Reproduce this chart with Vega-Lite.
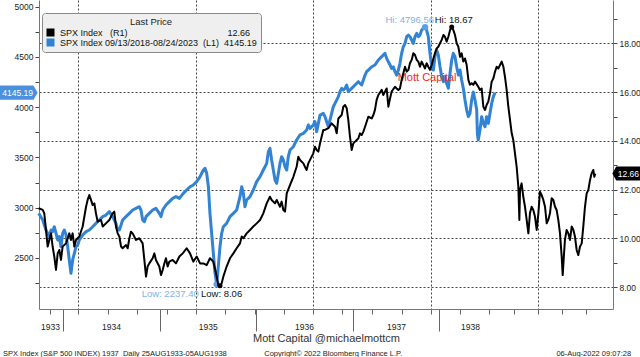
{
  "$schema": "https://vega.github.io/schema/vega-lite/v6.json",
  "width": 574,
  "height": 309,
  "autosize": {"type": "none"},
  "padding": {"left": 39, "top": 0, "right": 27, "bottom": 48},
  "background": "white",
  "config": {"view": {"stroke": null}, "font": "Liberation Sans"},
  "title": {
    "text": "SPX Index (S&P 500 INDEX) 1937\u00a0\u00a0Daily 25AUG1933-05AUG1938\u00a0\u00a0\u00a0\u00a0\u00a0\u00a0\u00a0\u00a0\u00a0\u00a0\u00a0\u00a0\u00a0\u00a0\u00a0\u00a0\u00a0\u00a0Copyright© 2022 Bloomberg Finance L.P.\u00a0\u00a0\u00a0\u00a0\u00a0\u00a0\u00a0\u00a0\u00a0\u00a0\u00a0\u00a0\u00a0\u00a0\u00a0\u00a0\u00a0\u00a0\u00a0\u00a0\u00a0\u00a0\u00a0\u00a0\u00a0\u00a0\u00a0\u00a0\u00a0\u00a0\u00a0\u00a0\u00a0\u00a0\u00a0\u00a0\u00a0\u00a0\u00a0\u00a0\u00a0\u00a0\u00a0\u00a0\u00a0\u00a0\u00a0\u00a0\u00a0\u00a0\u00a0\u00a0\u00a0\u00a0\u00a0\u00a0\u00a0\u00a0\u00a0\u00a0\u00a0\u00a0\u00a0\u00a0\u00a0\u00a0\u00a0\u00a0\u00a0\u00a0\u00a0\u00a0\u00a0\u00a006-Aug-2022 09:07:28",
    "orient": "bottom", "anchor": "start", "frame": "group", "dx": -36, "offset": 2,
    "fontSize": 7.5, "font": "Liberation Sans", "fontWeight": "normal", "color": "#222"
  },
  "datasets": {
    "black": [
      {"t":1933.647,"v":11.24},{"t":1933.683,"v":11.17},{"t":1933.697,"v":11.03},{"t":1933.712,"v":10.35},{"t":1933.727,"v":9.67},{"t":1933.757,"v":10.21},{"t":1933.771,"v":9.67},{"t":1933.786,"v":9.26},{"t":1933.801,"v":8.71},{"t":1933.816,"v":9.39},{"t":1933.831,"v":9.53},{"t":1933.845,"v":9.12},{"t":1933.860,"v":9.67},{"t":1933.890,"v":9.80},{"t":1933.919,"v":10.21},{"t":1933.934,"v":9.94},{"t":1933.949,"v":10.21},{"t":1933.964,"v":9.67},{"t":1933.979,"v":9.94},{"t":1934.008,"v":10.08},{"t":1934.038,"v":10.49},{"t":1934.068,"v":11.30},{"t":1934.082,"v":11.58},{"t":1934.097,"v":11.78},{"t":1934.112,"v":11.58},{"t":1934.127,"v":11.37},{"t":1934.142,"v":11.44},{"t":1934.156,"v":11.03},{"t":1934.171,"v":10.69},{"t":1934.201,"v":10.76},{"t":1934.216,"v":10.49},{"t":1934.245,"v":10.62},{"t":1934.275,"v":10.76},{"t":1934.304,"v":11.03},{"t":1934.319,"v":11.10},{"t":1934.334,"v":10.49},{"t":1934.349,"v":10.21},{"t":1934.364,"v":10.08},{"t":1934.379,"v":9.67},{"t":1934.393,"v":9.60},{"t":1934.423,"v":9.73},{"t":1934.438,"v":9.60},{"t":1934.453,"v":10.01},{"t":1934.467,"v":10.28},{"t":1934.482,"v":10.21},{"t":1934.512,"v":9.94},{"t":1934.541,"v":10.01},{"t":1934.571,"v":9.80},{"t":1934.586,"v":9.12},{"t":1934.601,"v":8.44},{"t":1934.615,"v":8.85},{"t":1934.630,"v":8.98},{"t":1934.660,"v":9.19},{"t":1934.675,"v":9.39},{"t":1934.689,"v":9.12},{"t":1934.719,"v":8.85},{"t":1934.734,"v":8.50},{"t":1934.749,"v":8.71},{"t":1934.764,"v":8.98},{"t":1934.778,"v":9.19},{"t":1934.793,"v":8.85},{"t":1934.808,"v":9.05},{"t":1934.838,"v":9.12},{"t":1934.867,"v":8.98},{"t":1934.882,"v":9.12},{"t":1934.897,"v":9.26},{"t":1934.927,"v":9.39},{"t":1934.962,"v":9.60},{"t":1934.992,"v":9.39},{"t":1935.021,"v":9.05},{"t":1935.051,"v":9.26},{"t":1935.081,"v":8.98},{"t":1935.110,"v":8.98},{"t":1935.140,"v":8.91},{"t":1935.169,"v":9.19},{"t":1935.199,"v":9.05},{"t":1935.229,"v":8.44},{"t":1935.243,"v":8.09},{"t":1935.258,"v":8.06},{"t":1935.273,"v":8.16},{"t":1935.288,"v":8.44},{"t":1935.317,"v":8.85},{"t":1935.347,"v":9.19},{"t":1935.377,"v":9.39},{"t":1935.406,"v":9.60},{"t":1935.436,"v":9.80},{"t":1935.451,"v":10.08},{"t":1935.466,"v":10.01},{"t":1935.495,"v":10.21},{"t":1935.525,"v":10.35},{"t":1935.554,"v":10.49},{"t":1935.584,"v":10.62},{"t":1935.614,"v":10.76},{"t":1935.643,"v":11.03},{"t":1935.673,"v":11.44},{"t":1935.702,"v":11.71},{"t":1935.717,"v":11.58},{"t":1935.747,"v":11.44},{"t":1935.762,"v":11.58},{"t":1935.791,"v":11.30},{"t":1935.806,"v":11.51},{"t":1935.821,"v":11.17},{"t":1935.836,"v":11.10},{"t":1935.851,"v":11.85},{"t":1935.880,"v":12.19},{"t":1935.910,"v":12.53},{"t":1935.939,"v":12.94},{"t":1935.954,"v":13.35},{"t":1935.969,"v":13.22},{"t":1935.999,"v":13.08},{"t":1936.013,"v":12.94},{"t":1936.028,"v":12.81},{"t":1936.043,"v":13.08},{"t":1936.058,"v":13.22},{"t":1936.087,"v":13.49},{"t":1936.102,"v":13.76},{"t":1936.117,"v":13.63},{"t":1936.132,"v":13.56},{"t":1936.147,"v":13.90},{"t":1936.176,"v":14.45},{"t":1936.191,"v":14.45},{"t":1936.221,"v":14.52},{"t":1936.250,"v":14.72},{"t":1936.280,"v":14.58},{"t":1936.295,"v":14.31},{"t":1936.310,"v":14.92},{"t":1936.339,"v":15.06},{"t":1936.354,"v":15.40},{"t":1936.369,"v":15.47},{"t":1936.384,"v":15.34},{"t":1936.398,"v":14.86},{"t":1936.413,"v":14.17},{"t":1936.428,"v":13.63},{"t":1936.443,"v":13.90},{"t":1936.458,"v":13.97},{"t":1936.487,"v":14.10},{"t":1936.502,"v":14.31},{"t":1936.517,"v":14.24},{"t":1936.532,"v":14.38},{"t":1936.547,"v":14.58},{"t":1936.576,"v":14.99},{"t":1936.606,"v":14.92},{"t":1936.621,"v":15.06},{"t":1936.635,"v":15.27},{"t":1936.650,"v":15.68},{"t":1936.665,"v":15.88},{"t":1936.695,"v":16.09},{"t":1936.709,"v":15.88},{"t":1936.724,"v":16.02},{"t":1936.739,"v":16.15},{"t":1936.754,"v":15.40},{"t":1936.769,"v":15.74},{"t":1936.783,"v":16.02},{"t":1936.813,"v":16.22},{"t":1936.828,"v":16.15},{"t":1936.843,"v":16.09},{"t":1936.857,"v":16.15},{"t":1936.872,"v":16.50},{"t":1936.887,"v":16.77},{"t":1936.902,"v":17.04},{"t":1936.917,"v":16.84},{"t":1936.932,"v":16.91},{"t":1936.946,"v":17.18},{"t":1936.961,"v":17.32},{"t":1936.976,"v":17.59},{"t":1936.991,"v":17.52},{"t":1937.006,"v":17.32},{"t":1937.020,"v":17.25},{"t":1937.035,"v":17.04},{"t":1937.050,"v":17.25},{"t":1937.065,"v":17.11},{"t":1937.080,"v":16.97},{"t":1937.094,"v":17.18},{"t":1937.109,"v":17.04},{"t":1937.124,"v":16.91},{"t":1937.139,"v":17.11},{"t":1937.154,"v":17.38},{"t":1937.168,"v":17.59},{"t":1937.183,"v":17.79},{"t":1937.198,"v":17.86},{"t":1937.213,"v":18.00},{"t":1937.228,"v":18.14},{"t":1937.243,"v":18.34},{"t":1937.257,"v":18.27},{"t":1937.272,"v":18.07},{"t":1937.287,"v":18.27},{"t":1937.302,"v":18.54},{"t":1937.317,"v":18.67},{"t":1937.331,"v":18.55},{"t":1937.346,"v":18.34},{"t":1937.361,"v":18.00},{"t":1937.376,"v":17.86},{"t":1937.391,"v":17.45},{"t":1937.405,"v":17.59},{"t":1937.420,"v":17.25},{"t":1937.435,"v":17.38},{"t":1937.450,"v":17.11},{"t":1937.465,"v":16.50},{"t":1937.479,"v":16.30},{"t":1937.494,"v":16.36},{"t":1937.509,"v":16.30},{"t":1937.524,"v":16.43},{"t":1937.553,"v":16.22},{"t":1937.568,"v":16.09},{"t":1937.583,"v":16.15},{"t":1937.598,"v":15.40},{"t":1937.613,"v":15.27},{"t":1937.627,"v":15.47},{"t":1937.642,"v":15.61},{"t":1937.657,"v":15.95},{"t":1937.672,"v":16.43},{"t":1937.687,"v":16.56},{"t":1937.702,"v":16.84},{"t":1937.716,"v":17.04},{"t":1937.731,"v":16.97},{"t":1937.746,"v":17.11},{"t":1937.761,"v":17.25},{"t":1937.776,"v":17.04},{"t":1937.790,"v":16.63},{"t":1937.805,"v":16.09},{"t":1937.820,"v":15.40},{"t":1937.835,"v":14.86},{"t":1937.850,"v":14.31},{"t":1937.864,"v":14.04},{"t":1937.879,"v":13.49},{"t":1937.894,"v":12.94},{"t":1937.909,"v":12.12},{"t":1937.918,"v":10.76},{"t":1937.924,"v":11.99},{"t":1937.938,"v":12.26},{"t":1937.953,"v":11.71},{"t":1937.968,"v":11.30},{"t":1937.983,"v":10.76},{"t":1937.998,"v":10.21},{"t":1938.012,"v":11.03},{"t":1938.027,"v":11.30},{"t":1938.042,"v":11.17},{"t":1938.057,"v":10.89},{"t":1938.072,"v":10.35},{"t":1938.087,"v":11.03},{"t":1938.101,"v":11.92},{"t":1938.116,"v":11.78},{"t":1938.131,"v":11.58},{"t":1938.146,"v":11.30},{"t":1938.161,"v":10.62},{"t":1938.175,"v":10.76},{"t":1938.190,"v":11.03},{"t":1938.205,"v":11.65},{"t":1938.220,"v":11.58},{"t":1938.235,"v":11.30},{"t":1938.249,"v":11.17},{"t":1938.264,"v":10.76},{"t":1938.279,"v":10.21},{"t":1938.294,"v":9.26},{"t":1938.303,"v":8.50},{"t":1938.315,"v":9.39},{"t":1938.323,"v":9.94},{"t":1938.338,"v":10.35},{"t":1938.353,"v":10.21},{"t":1938.368,"v":9.94},{"t":1938.383,"v":10.49},{"t":1938.398,"v":10.35},{"t":1938.412,"v":10.08},{"t":1938.427,"v":9.53},{"t":1938.442,"v":9.32},{"t":1938.457,"v":9.67},{"t":1938.472,"v":9.80},{"t":1938.486,"v":10.49},{"t":1938.501,"v":11.30},{"t":1938.516,"v":11.85},{"t":1938.531,"v":11.99},{"t":1938.546,"v":12.40},{"t":1938.560,"v":12.67},{"t":1938.575,"v":12.81},{"t":1938.584,"v":12.53},{"t":1938.593,"v":12.66}
    ],
    "blue": [
      {"t":1933.647,"v":2944},{"t":1933.683,"v":2878},{"t":1933.712,"v":2778},{"t":1933.727,"v":2745},{"t":1933.742,"v":2712},{"t":1933.757,"v":2778},{"t":1933.771,"v":2762},{"t":1933.786,"v":2811},{"t":1933.801,"v":2745},{"t":1933.816,"v":2679},{"t":1933.831,"v":2712},{"t":1933.845,"v":2612},{"t":1933.860,"v":2745},{"t":1933.875,"v":2778},{"t":1933.890,"v":2728},{"t":1933.905,"v":2612},{"t":1933.919,"v":2480},{"t":1933.934,"v":2347},{"t":1933.949,"v":2480},{"t":1933.964,"v":2546},{"t":1933.979,"v":2612},{"t":1933.994,"v":2629},{"t":1934.008,"v":2679},{"t":1934.038,"v":2728},{"t":1934.068,"v":2762},{"t":1934.097,"v":2778},{"t":1934.127,"v":2811},{"t":1934.156,"v":2844},{"t":1934.186,"v":2878},{"t":1934.216,"v":2911},{"t":1934.245,"v":2927},{"t":1934.275,"v":2961},{"t":1934.304,"v":2911},{"t":1934.334,"v":2844},{"t":1934.349,"v":2778},{"t":1934.364,"v":2778},{"t":1934.379,"v":2828},{"t":1934.393,"v":2878},{"t":1934.423,"v":2911},{"t":1934.453,"v":2944},{"t":1934.482,"v":2977},{"t":1934.512,"v":2994},{"t":1934.541,"v":3010},{"t":1934.556,"v":2977},{"t":1934.571,"v":2878},{"t":1934.586,"v":2861},{"t":1934.601,"v":2911},{"t":1934.630,"v":2944},{"t":1934.660,"v":2977},{"t":1934.689,"v":2994},{"t":1934.719,"v":2944},{"t":1934.734,"v":2911},{"t":1934.749,"v":2977},{"t":1934.778,"v":3027},{"t":1934.808,"v":3060},{"t":1934.838,"v":3093},{"t":1934.867,"v":3110},{"t":1934.897,"v":3093},{"t":1934.932,"v":3143},{"t":1934.962,"v":3176},{"t":1934.992,"v":3209},{"t":1935.021,"v":3226},{"t":1935.051,"v":3259},{"t":1935.081,"v":3309},{"t":1935.110,"v":3375},{"t":1935.125,"v":3392},{"t":1935.140,"v":3342},{"t":1935.155,"v":3209},{"t":1935.169,"v":2944},{"t":1935.184,"v":2745},{"t":1935.199,"v":2546},{"t":1935.214,"v":2347},{"t":1935.229,"v":2237.4},{"t":1935.243,"v":2413},{"t":1935.258,"v":2612},{"t":1935.273,"v":2745},{"t":1935.288,"v":2811},{"t":1935.317,"v":2844},{"t":1935.347,"v":2911},{"t":1935.377,"v":2944},{"t":1935.406,"v":2977},{"t":1935.436,"v":3110},{"t":1935.451,"v":3209},{"t":1935.466,"v":3143},{"t":1935.480,"v":3010},{"t":1935.495,"v":3077},{"t":1935.525,"v":3110},{"t":1935.554,"v":3176},{"t":1935.584,"v":3259},{"t":1935.614,"v":3309},{"t":1935.643,"v":3375},{"t":1935.658,"v":3408},{"t":1935.673,"v":3441},{"t":1935.688,"v":3557},{"t":1935.702,"v":3591},{"t":1935.717,"v":3475},{"t":1935.732,"v":3375},{"t":1935.747,"v":3276},{"t":1935.762,"v":3243},{"t":1935.777,"v":3342},{"t":1935.791,"v":3441},{"t":1935.806,"v":3508},{"t":1935.821,"v":3475},{"t":1935.836,"v":3408},{"t":1935.851,"v":3375},{"t":1935.865,"v":3508},{"t":1935.880,"v":3574},{"t":1935.910,"v":3607},{"t":1935.939,"v":3674},{"t":1935.969,"v":3724},{"t":1935.999,"v":3740},{"t":1936.028,"v":3773},{"t":1936.043,"v":3823},{"t":1936.058,"v":3790},{"t":1936.087,"v":3823},{"t":1936.102,"v":3856},{"t":1936.117,"v":3757},{"t":1936.132,"v":3839},{"t":1936.147,"v":3922},{"t":1936.176,"v":3939},{"t":1936.191,"v":3906},{"t":1936.206,"v":3856},{"t":1936.221,"v":3806},{"t":1936.236,"v":3873},{"t":1936.250,"v":3939},{"t":1936.265,"v":4005},{"t":1936.280,"v":4038},{"t":1936.310,"v":4105},{"t":1936.324,"v":4155},{"t":1936.339,"v":4188},{"t":1936.354,"v":4171},{"t":1936.369,"v":4188},{"t":1936.384,"v":4221},{"t":1936.398,"v":4155},{"t":1936.413,"v":4171},{"t":1936.428,"v":4188},{"t":1936.458,"v":4221},{"t":1936.487,"v":4254},{"t":1936.517,"v":4221},{"t":1936.532,"v":4271},{"t":1936.547,"v":4320},{"t":1936.561,"v":4354},{"t":1936.576,"v":4370},{"t":1936.606,"v":4403},{"t":1936.635,"v":4420},{"t":1936.665,"v":4470},{"t":1936.695,"v":4503},{"t":1936.724,"v":4536},{"t":1936.739,"v":4486},{"t":1936.754,"v":4453},{"t":1936.769,"v":4420},{"t":1936.783,"v":4387},{"t":1936.798,"v":4403},{"t":1936.813,"v":4354},{"t":1936.828,"v":4320},{"t":1936.843,"v":4370},{"t":1936.857,"v":4437},{"t":1936.872,"v":4536},{"t":1936.887,"v":4602},{"t":1936.902,"v":4636},{"t":1936.917,"v":4702},{"t":1936.932,"v":4718},{"t":1936.946,"v":4702},{"t":1936.961,"v":4669},{"t":1936.976,"v":4636},{"t":1936.991,"v":4702},{"t":1937.006,"v":4735},{"t":1937.020,"v":4702},{"t":1937.035,"v":4718},{"t":1937.050,"v":4768},{"t":1937.065,"v":4785},{"t":1937.080,"v":4796.56},{"t":1937.094,"v":4768},{"t":1937.109,"v":4702},{"t":1937.124,"v":4536},{"t":1937.139,"v":4403},{"t":1937.154,"v":4370},{"t":1937.168,"v":4503},{"t":1937.183,"v":4569},{"t":1937.198,"v":4519},{"t":1937.213,"v":4403},{"t":1937.228,"v":4304},{"t":1937.243,"v":4254},{"t":1937.257,"v":4304},{"t":1937.272,"v":4237},{"t":1937.287,"v":4188},{"t":1937.302,"v":4337},{"t":1937.317,"v":4470},{"t":1937.331,"v":4536},{"t":1937.346,"v":4503},{"t":1937.361,"v":4403},{"t":1937.376,"v":4320},{"t":1937.391,"v":4370},{"t":1937.405,"v":4271},{"t":1937.420,"v":4188},{"t":1937.435,"v":4072},{"t":1937.450,"v":3972},{"t":1937.465,"v":3906},{"t":1937.479,"v":3939},{"t":1937.494,"v":4072},{"t":1937.509,"v":4150},{"t":1937.524,"v":4072},{"t":1937.539,"v":3972},{"t":1937.545,"v":3740},{"t":1937.553,"v":3674},{"t":1937.568,"v":3773},{"t":1937.583,"v":3906},{"t":1937.598,"v":3839},{"t":1937.613,"v":3806},{"t":1937.627,"v":3906},{"t":1937.642,"v":3839},{"t":1937.657,"v":3939},{"t":1937.672,"v":4038},{"t":1937.687,"v":4105},{"t":1937.702,"v":4145.19}
    ]
  },
  "encoding": {
    "x": {
      "field": "t", "type": "quantitative",
      "scale": {"domain": [1933.65, 1938.75], "nice": false, "zero": false},
      "axis": {
        "title": "Mott Capital @michaelmottcm",
        "titleFont": "Liberation Sans", "titleFontSize": 11, "titleFontWeight": "normal", "titleColor": "#333", "titleY": 23,
        "values": [1933.748, 1933.863, 1934, 1934.263, 1934.29, 1934.521, 1934.725, 1934.787, 1935.045, 1935.15, 1935.303, 1935.569, 1935.578, 1935.827, 1936.005, 1936.084, 1936.342, 1936.44, 1936.609, 1936.822, 1936.875, 1937.133, 1937.204, 1937.391, 1937.48, 1937.648, 1937.87, 1938.083, 1938.297, 1938.51],
        "labelExpr": "datum.value == 1933.748 ? '1933' : datum.value == 1934.29 ? '1934' : datum.value == 1935.15 ? '1935' : datum.value == 1936.005 ? '1936' : datum.value == 1936.822 ? '1937' : datum.value == 1937.48 ? '1938' : ''",
        "labelFont": "Liberation Sans", "labelFontSize": 8.5, "labelColor": "#222", "labelPadding": 8,
        "labelOverlap": false, "labelFlush": false, "labelBound": false,
        "domainColor": "#777", "tickColor": "#666",
        "tickSize": {"condition": {"test": "indexof([1933.863,1934.725,1935.578,1936.44,1937.204], datum.value) >= 0", "value": 22}, "value": 5},
        "tickOpacity": {"condition": {"test": "indexof([1934.29,1935.15,1936.005,1936.822,1937.48], datum.value) >= 0", "value": 0}, "value": 1},
        "grid": true, "gridDash": [2, 2], "gridColor": "#444",
        "gridOpacity": {"condition": {"test": "indexof([1934,1935.045,1936.084,1937.133,1938.083], datum.value) >= 0", "value": 1}, "value": 0}
      }
    }
  },
  "layer": [
    {
      "encoding": {
        "y": {
          "field": "v", "type": "quantitative",
          "scale": {"domain": [1992, 5067], "nice": false, "zero": false},
          "axis": {
            "orient": "left", "title": null,
            "values": [2250, 2500, 2750, 3000, 3250, 3500, 3750, 4000, 4250, 4500, 4750, 5000],
            "format": "d",
            "labelExpr": "datum.value % 500 == 0 ? datum.label : ''",
            "labelOverlap": false,
            "labelFont": "Liberation Sans", "labelFontSize": 8.5, "labelColor": "#222", "labelPadding": 2,
            "tickSize": 4, "tickColor": "#444", "domainColor": "#777", "grid": false
          }
        }
      },
      "layer": [
        {
          "data": {"name": "blue"},
          "mark": {"type": "line", "strokeWidth": 3, "strokeJoin": "round"},
          "encoding": {"color": {"datum": "L1", "type": "nominal"}}
        },
        {
          "data": {"values": [{"t": 1937.080, "v": 4796.56}, {"t": 1935.229, "v": 2237.4}]},
          "mark": {"type": "circle", "size": 40, "color": "#5d9fe3", "opacity": 1}
        },
        {
          "data": {"values": [{"t": 1937.080, "v": 4796.56, "lab": "Hi: 4796.56"}]},
          "layer": [
            {
              "mark": {"type": "text", "align": "right", "baseline": "middle", "dx": 9, "dy": -7, "fontSize": 9.5, "color": "#7fb2e6", "font": "Liberation Sans"},
              "encoding": {"text": {"field": "lab"}}
            },
            {
              "mark": {"type": "text", "text": "Mott Capital", "align": "center", "baseline": "middle", "dx": 2, "dy": 51, "fontSize": 11, "color": "#f0262a", "font": "Liberation Sans"}
            }
          ]
        },
        {
          "data": {"values": [{"t": 1935.229, "v": 2237.4, "lab": "Low: 2237.40"}]},
          "mark": {"type": "text", "align": "right", "baseline": "middle", "dx": -18, "dy": 10, "fontSize": 9.5, "color": "#7fb2e6", "font": "Liberation Sans"},
          "encoding": {"text": {"field": "lab"}}
        },
        {
          "data": {"name": "blue"},
          "encoding": {
            "x": {"aggregate": "min", "field": "t", "type": "quantitative"},
            "y": {"aggregate": {"argmax": "t"}, "field": "v", "type": "quantitative"}
          },
          "layer": [
            {
              "mark": {"type": "point", "shape": "M-1,-0.37L0.78,-0.37L1,0L0.78,0.37L-1,0.37Z", "size": 1444, "filled": true, "color": "#4a90de", "opacity": 1, "xOffset": -20}
            },
            {
              "mark": {"type": "text", "align": "center", "baseline": "middle", "dx": -21, "fontSize": 8.5, "color": "#fff", "font": "Liberation Sans"},
              "encoding": {"text": {"aggregate": {"argmax": "t"}, "field": "v", "type": "quantitative", "format": ".2f"}}
            }
          ]
        }
      ]
    },
    {
      "encoding": {
        "y": {
          "field": "v", "type": "quantitative",
          "scale": {"domain": [7.11, 19.775], "nice": false, "zero": false},
          "axis": {
            "orient": "right", "title": null,
            "values": [8, 9, 10, 11, 12, 13, 14, 15, 16, 17, 18, 19],
            "format": ".2f",
            "labelExpr": "datum.value % 2 == 0 ? datum.label : ''",
            "labelOverlap": false,
            "labelFont": "Liberation Sans", "labelFontSize": 8.5, "labelColor": "#222", "labelPadding": 2,
            "tickSize": 4, "tickColor": "#444", "domainColor": "#777",
            "grid": true, "gridDash": [2, 2], "gridColor": "#444",
            "gridOpacity": {"condition": {"test": "datum.value % 2 == 0", "value": 1}, "value": 0}
          }
        }
      },
      "layer": [
        {
          "data": {"name": "black"},
          "mark": {"type": "line", "strokeWidth": 2, "strokeJoin": "round"},
          "encoding": {
            "color": {
              "datum": "R1", "type": "nominal",
              "scale": {"domain": ["R1", "L1"], "range": ["#000000", "#3283d4"]},
              "legend": {
                "title": "Last Price", "orient": "none", "legendX": 3, "legendY": 13, "direction": "vertical",
                "fillColor": "#efefef", "strokeColor": "#8a8a8a", "cornerRadius": 3, "padding": 4,
                "titleFont": "Liberation Sans", "titleFontSize": 9.5, "titleFontWeight": "normal", "titleColor": "#222", "titleAnchor": "middle", "titlePadding": 1,
                "labelFont": "Liberation Sans", "labelFontSize": 9, "labelColor": "#111", "labelLimit": 400, "labelOffset": 5,
                "labelExpr": "datum.value == 'R1' ? 'SPX Index\u00a0\u00a0\u00a0(R1)\u00a0\u00a0\u00a0\u00a0\u00a0\u00a0\u00a0\u00a0\u00a0\u00a0\u00a0\u00a0\u00a0\u00a0\u00a0\u00a0\u00a0\u00a0\u00a0\u00a0\u00a0\u00a0\u00a0\u00a0\u00a0\u00a0\u00a0\u00a0\u00a0\u00a0\u00a0\u00a0\u00a0\u00a0\u00a0\u00a0\u00a0\u00a0\u00a0\u00a012.66' : 'SPX Index 09/13/2018-08/24/2023\u00a0\u00a0(L1)\u00a0\u00a04145.19'",
                "symbolType": "square", "symbolSize": 9, "symbolStrokeWidth": 5, "rowPadding": 0, "clipHeight": 10
              }
            }
          }
        },
        {
          "data": {"values": [{"t": 1937.317, "v": 18.67}, {"t": 1935.258, "v": 8.06}]},
          "mark": {"type": "circle", "size": 25, "color": "#000", "opacity": 1}
        },
        {
          "data": {"values": [{"t": 1937.317, "v": 18.67, "lab": "Hi: 18.67"}]},
          "mark": {"type": "text", "align": "left", "baseline": "middle", "dx": -17, "dy": -7, "fontSize": 9.5, "color": "#111", "font": "Liberation Sans"},
          "encoding": {"text": {"field": "lab"}}
        },
        {
          "data": {"values": [{"t": 1935.258, "v": 8.06, "lab": "Low: 8.06"}]},
          "mark": {"type": "text", "align": "left", "baseline": "middle", "dx": -19, "dy": 8, "fontSize": 9.5, "color": "#111", "font": "Liberation Sans"},
          "encoding": {"text": {"field": "lab"}}
        },
        {
          "data": {"name": "black"},
          "encoding": {
            "x": {"aggregate": "max", "field": "t", "type": "quantitative"},
            "y": {"aggregate": {"argmax": "t"}, "field": "v", "type": "quantitative"}
          },
          "layer": [
            {
              "mark": {"type": "point", "shape": "M-1,0L-0.72,-0.5L1,-0.5L1,0.5L-0.72,0.5Z", "size": 784, "filled": true, "color": "#000", "opacity": 1, "xOffset": 31}
            },
            {
              "mark": {"type": "text", "align": "center", "baseline": "middle", "dx": 33, "fontSize": 8.5, "color": "#fff", "font": "Liberation Sans"},
              "encoding": {"text": {"aggregate": {"argmax": "t"}, "field": "v", "type": "quantitative", "format": ".2f"}}
            }
          ]
        }
      ]
    }
  ],
  "resolve": {"scale": {"y": "independent"}}
}
